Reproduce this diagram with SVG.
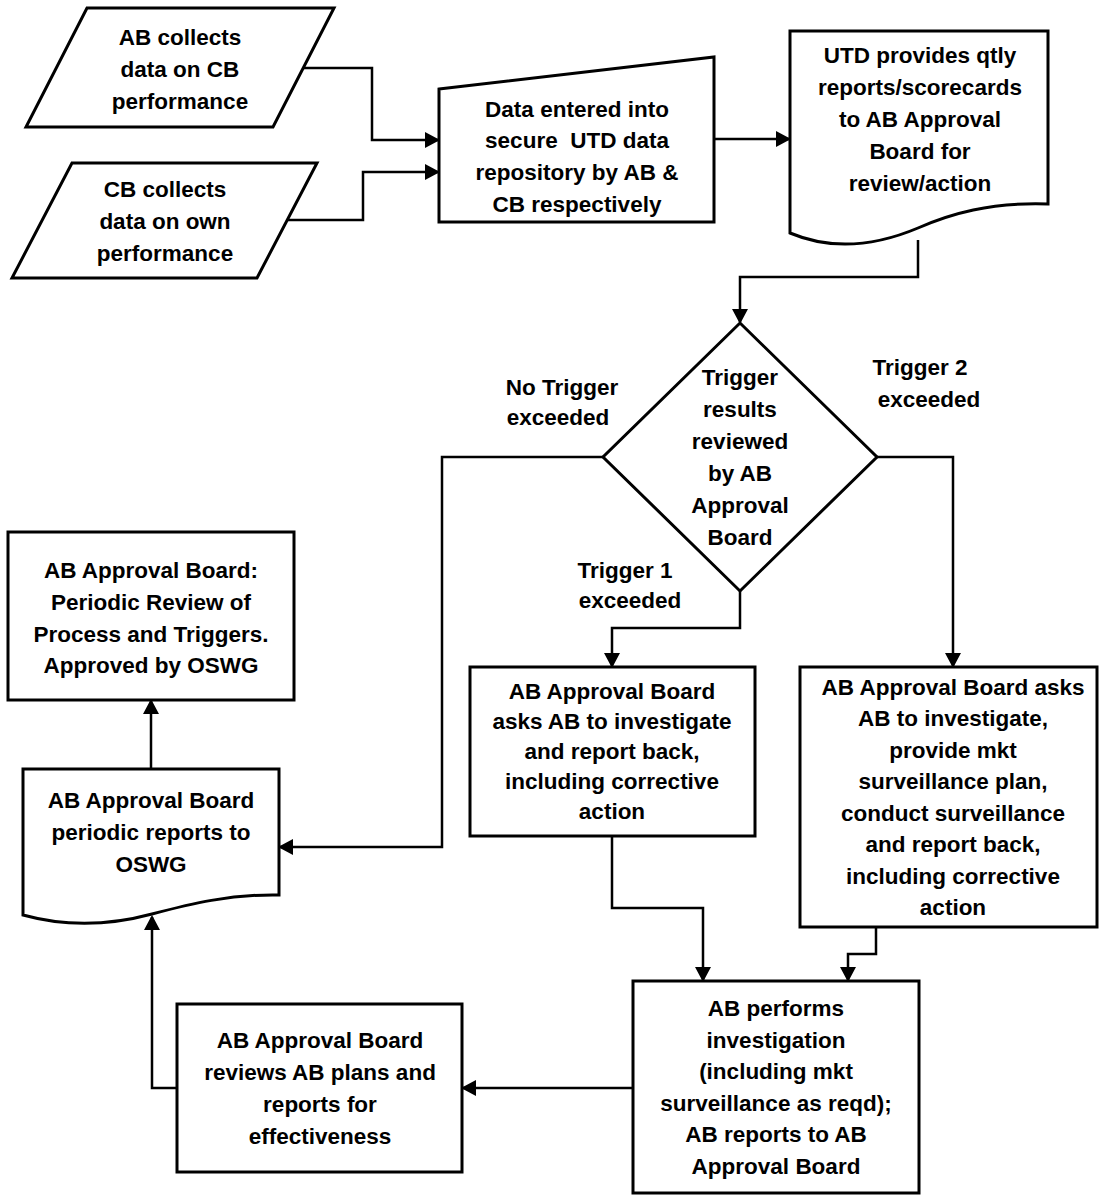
<svg xmlns="http://www.w3.org/2000/svg" width="1099" height="1196" viewBox="0 0 1099 1196">
<style>
.s{fill:#fff;stroke:#000;stroke-width:3;stroke-linejoin:miter}
.c{fill:none;stroke:#000;stroke-width:2.5}
text{font-family:"Liberation Sans",Arial,sans-serif;font-weight:bold;font-size:22.5px;fill:#000;text-anchor:middle}
</style>
<defs>
<marker id="ah" markerUnits="userSpaceOnUse" markerWidth="16" markerHeight="16" refX="13" refY="8" orient="auto" viewBox="0 0 16 16">
<path d="M0,0 L15,8 L0,16 z" fill="#000"/>
</marker>
</defs>
<rect width="1099" height="1196" fill="#fff"/>

<g id="connectors" class="c" marker-end="url(#ah)">
<path d="M304,68 H372 V140 H438"/>
<path d="M287,220 H363 V172 H438"/>
<path d="M714,139 H789"/>
<path d="M918,240 V277 H740 V322"/>
<path d="M603,457 H442 V847 H280"/>
<path d="M740,591 V628 H612 V666"/>
<path d="M877,457 H953 V666"/>
<path d="M612,836 V908 H703 V980"/>
<path d="M876,927 V954 H848 V980"/>
<path d="M633,1088 H463"/>
<path d="M177,1088 H152 V917"/>
<path d="M151,769 V701"/>
</g>

<g id="n1">
<polygon class="s" points="87,8 334,8 273,127 26,127"/>
<text x="180" y="45">AB collects</text>
<text x="180" y="77">data on CB</text>
<text x="180" y="109">performance</text>
</g>
<g id="n2">
<polygon class="s" points="72,163 317,163 257,278 12,278"/>
<text x="165" y="197">CB collects</text>
<text x="165" y="229">data on own</text>
<text x="165" y="261">performance</text>
</g>
<g id="n3">
<polygon class="s" points="439,89 714,57 714,222 439,222"/>
<text x="577" y="117">Data entered into</text>
<text x="577" y="148" xml:space="preserve">secure  UTD data</text>
<text x="577" y="180">repository by AB &amp;</text>
<text x="577" y="212">CB respectively</text>
</g>
<g id="n4">
<path class="s" d="M790,31 H1048 V204 C990,202 950,214 918,228 C880,244 835,252 790,233 Z"/>
<text x="920" y="63">UTD provides qtly</text>
<text x="920" y="95">reports/scorecards</text>
<text x="920" y="127">to AB Approval</text>
<text x="920" y="159">Board for</text>
<text x="920" y="191">review/action</text>
</g>
<g id="n5">
<polygon class="s" points="740,323 877,457 740,591 603,457"/>
<text x="740" y="385">Trigger</text>
<text x="740" y="417">results</text>
<text x="740" y="449">reviewed</text>
<text x="740" y="481">by AB</text>
<text x="740" y="513">Approval</text>
<text x="740" y="545">Board</text>
</g>
<g id="labels">
<text x="562" y="395">No Trigger</text>
<text x="558" y="425">exceeded</text>
<text x="625" y="578">Trigger 1</text>
<text x="630" y="608">exceeded</text>
<text x="920" y="375">Trigger 2</text>
<text x="929" y="407">exceeded</text>
</g>
<g id="n6">
<rect class="s" x="8" y="532" width="286" height="168"/>
<text x="151" y="578">AB Approval Board:</text>
<text x="151" y="610">Periodic Review of</text>
<text x="151" y="642">Process and Triggers.</text>
<text x="151" y="673">Approved by OSWG</text>
</g>
<g id="n7">
<path class="s" d="M23,769 H279 V895 C230,894 190,904 152,914 C115,924 70,928 23,915 Z"/>
<text x="151" y="808">AB Approval Board</text>
<text x="151" y="840">periodic reports to</text>
<text x="151" y="872">OSWG</text>
</g>
<g id="n8">
<rect class="s" x="470" y="667" width="285" height="169"/>
<text x="612" y="699">AB Approval Board</text>
<text x="612" y="729">asks AB to investigate</text>
<text x="612" y="759">and report back,</text>
<text x="612" y="789">including corrective</text>
<text x="612" y="819">action</text>
</g>
<g id="n9">
<rect class="s" x="800" y="667" width="297" height="260"/>
<text x="953" y="695">AB Approval Board asks</text>
<text x="953" y="726">AB to investigate,</text>
<text x="953" y="758">provide mkt</text>
<text x="953" y="789">surveillance plan,</text>
<text x="953" y="821">conduct surveillance</text>
<text x="953" y="852">and report back,</text>
<text x="953" y="884">including corrective</text>
<text x="953" y="915">action</text>
</g>
<g id="n10">
<rect class="s" x="633" y="981" width="286" height="212"/>
<text x="776" y="1016">AB performs</text>
<text x="776" y="1048">investigation</text>
<text x="776" y="1079">(including mkt</text>
<text x="776" y="1111">surveillance as reqd);</text>
<text x="776" y="1142">AB reports to AB</text>
<text x="776" y="1174">Approval Board</text>
</g>
<g id="n11">
<rect class="s" x="177" y="1004" width="285" height="168"/>
<text x="320" y="1048">AB Approval Board</text>
<text x="320" y="1080">reviews AB plans and</text>
<text x="320" y="1112">reports for</text>
<text x="320" y="1144">effectiveness</text>
</g>
</svg>
